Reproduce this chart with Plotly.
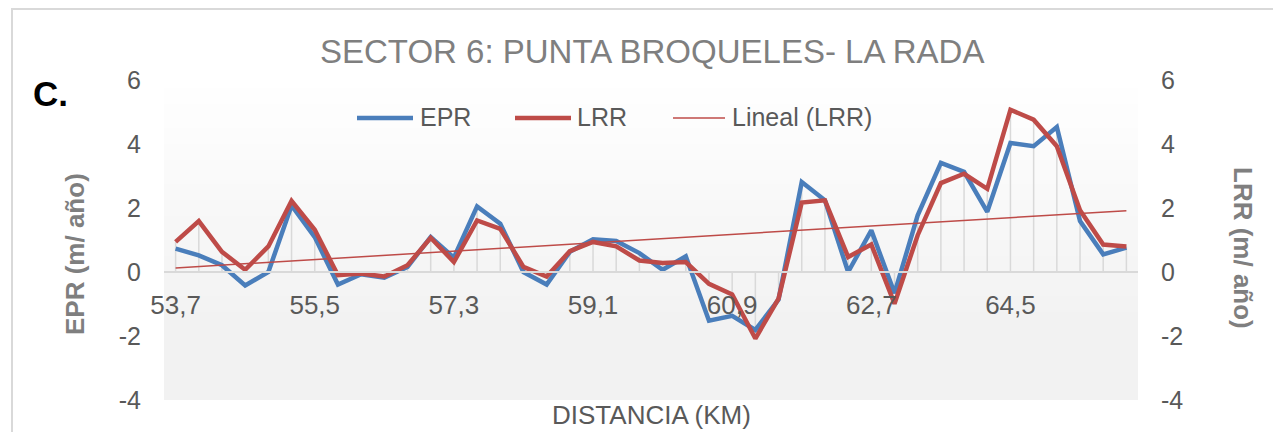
import numpy as np
import plotly.graph_objects as go

distancia = ["53,7", "54,0", "54,3", "54,6", "54,9", "55,2", "55,5", "55,8", "56,1", "56,4",
             "56,7", "57,0", "57,3", "57,6", "57,9", "58,2", "58,5", "58,8", "59,1", "59,4",
             "59,7", "60,0", "60,3", "60,6", "60,9", "61,2", "61,5", "61,8", "62,1", "62,4",
             "62,7", "63,0", "63,3", "63,6", "63,9", "64,2", "64,5", "64,8", "65,1", "65,4",
             "65,7", "66,0"]

epr = [0.73, 0.52, 0.21, -0.42, 0.00, 2.08, 1.09, -0.39, -0.07, -0.18,
       0.16, 1.09, 0.45, 2.05, 1.51, 0.00, -0.39, 0.63, 1.02, 0.97,
       0.59, 0.07, 0.49, -1.52, -1.37, -1.81, -0.86, 2.81, 2.24, 0.00,
       1.30, -0.66, 1.77, 3.41, 3.13, 1.88, 4.03, 3.93, 4.53, 1.59,
       0.55, 0.76]

lrr = [0.94, 1.59, 0.63, 0.07, 0.80, 2.22, 1.32, -0.10, -0.05, -0.14,
       0.21, 1.07, 0.31, 1.61, 1.35, 0.16, -0.14, 0.65, 0.94, 0.80,
       0.36, 0.28, 0.31, -0.37, -0.70, -2.08, -0.83, 2.17, 2.24, 0.47,
       0.86, -0.99, 1.15, 2.78, 3.07, 2.60, 5.07, 4.76, 3.93, 1.93,
       0.86, 0.80]

y_ticks = [-4, -2, 0, 2, 4, 6]
y_tick_labels = ["-4", "-2", "0", "2", "4", "6"]
label_step = 6
series_names = ["EPR", "LRR", "Lineal (LRR)"]

idx = list(range(len(distancia)))

# linear trend of LRR (Excel "Lineal")
slope, intercept = np.polyfit(idx, lrr, 1)
trend = [intercept + slope * i for i in idx]

# drop lines from the axis (0) to the highest value of each category
drop_x, drop_y = [], []
for i, a, b in zip(idx, epr, lrr):
    drop_x += [i, i, None]
    drop_y += [0, max(a, b), None]

BLUE = "#4a7ebb"
RED = "#be4b48"
GRAY_T = "#595959"
FONT = "Liberation Sans, Arial, sans-serif"

# plot-area geometry in pixels (for placing decorations)
L, R, T, B = 164, 135, 80, 32
W, H = 1273, 432
PW, PH = W - L - R, H - T - B


def px(x):
    return (x - L) / PW


def py(y):
    return (H - B - y) / PH


fig = go.Figure()

fig.add_trace(go.Scatter(x=drop_x, y=drop_y, mode="lines",
                         line=dict(color="#d9d9d9", width=1.5),
                         showlegend=False, hoverinfo="skip"))
fig.add_trace(go.Scatter(x=idx, y=epr, mode="lines", name=series_names[0],
                         line=dict(color=BLUE, width=4.5), showlegend=False))
fig.add_trace(go.Scatter(x=idx, y=lrr, mode="lines", name=series_names[1], yaxis="y2",
                         line=dict(color=RED, width=4.5), showlegend=False))
fig.add_trace(go.Scatter(x=idx, y=trend, mode="lines", name=series_names[2], yaxis="y2",
                         line=dict(color=RED, width=1.5), showlegend=False))

# gradient background of the plot area
n_bands = 40
shapes = []
for k in range(n_bands):
    f0 = k / n_bands
    f1 = (k + 1) / n_bands
    t = min(1.0, (1 - (f0 + f1) / 2) / 0.75)
    c = int(round(255 - t * (255 - 242)))
    shapes.append(dict(type="rect", xref="x domain", yref="y domain",
                       x0=0, x1=1, y0=f0, y1=f1 + 0.002,
                       fillcolor=f"rgb({c},{c},{c})", line=dict(width=0),
                       layer="below"))
# outer chart border
shapes.append(dict(type="rect", xref="paper", yref="paper",
                   x0=px(12), x1=1.3, y0=-0.3, y1=py(9),
                   line=dict(color="#d9d9d9", width=2), fillcolor="rgba(0,0,0,0)",
                   layer="below"))

# legend (drawn as line samples + text, Excel style)
legend_items = [(357, 413, 418, BLUE, 4.5), (515, 571, 575, RED, 4.5), (673, 725, 730, RED, 1.5)]
annotations = []
for (x0, x1, xt, col, wd), name in zip(legend_items, series_names):
    shapes.append(dict(type="line", xref="paper", yref="paper",
                       x0=px(x0), x1=px(x1), y0=py(118), y1=py(118),
                       line=dict(color=col, width=wd)))
    annotations.append(dict(text=name, xref="paper", yref="paper", x=px(xt), y=py(117),
                            xanchor="left", yanchor="middle", showarrow=False,
                            font=dict(size=25, color=GRAY_T)))

annotations += [
    dict(text="SECTOR 6: PUNTA BROQUELES- LA RADA", xref="paper", yref="paper",
         x=px(652), y=py(51), xanchor="center", yanchor="middle",
         showarrow=False, font=dict(size=33, color="#7f7f7f")),
    dict(text="<b>C.</b>", xref="paper", yref="paper",
         x=px(50), y=py(93), xanchor="center", yanchor="middle",
         showarrow=False, font=dict(size=35, color="black")),
    dict(text="<b>EPR (m/ año)</b>", xref="paper", yref="paper",
         x=px(75), y=py(254), xanchor="center", yanchor="middle",
         textangle=-90, showarrow=False, font=dict(size=26, color="#7f7f7f")),
    dict(text="<b>LRR (m/ año)</b>", xref="paper", yref="paper",
         x=px(1243), y=py(248), xanchor="center", yanchor="middle",
         textangle=90, showarrow=False, font=dict(size=26, color="#7f7f7f")),
    dict(text="DISTANCIA (KM)", xref="paper", yref="paper",
         x=px(651), y=py(415), xanchor="center", yanchor="middle",
         showarrow=False, font=dict(size=26, color=GRAY_T)),
]

fig.update_layout(
    width=W, height=H,
    margin=dict(l=L, r=R, t=T, b=B),
    paper_bgcolor="white", plot_bgcolor="rgba(0,0,0,0)",
    font=dict(family=FONT, size=26, color=GRAY_T),
    shapes=shapes,
    annotations=annotations,
    showlegend=False,
    xaxis=dict(range=[-0.5, len(idx) - 0.5], tickmode="array",
               tickvals=idx[::label_step], ticktext=distancia[::label_step],
               anchor="free", position=0.4, showline=True, linecolor="#d9d9d9",
               linewidth=2, ticks="", showgrid=False, zeroline=False,
               ticklabelstandoff=10, tickfont=dict(size=26, color=GRAY_T)),
    yaxis=dict(range=[-4, 6], tickmode="array", tickvals=y_ticks, ticktext=y_tick_labels,
               showgrid=False, zeroline=False, showline=False, ticks="",
               ticklabelstandoff=22, tickfont=dict(size=25, color=GRAY_T)),
    yaxis2=dict(range=[-4, 6], tickmode="array", tickvals=y_ticks, ticktext=y_tick_labels,
                overlaying="y", side="right",
                showgrid=False, zeroline=False, showline=False, ticks="",
                ticklabelstandoff=22, tickfont=dict(size=25, color=GRAY_T)),
)

fig.write_html("out.html", config={"displayModeBar": False},
               post_script="document.body.style.margin='0px';")
